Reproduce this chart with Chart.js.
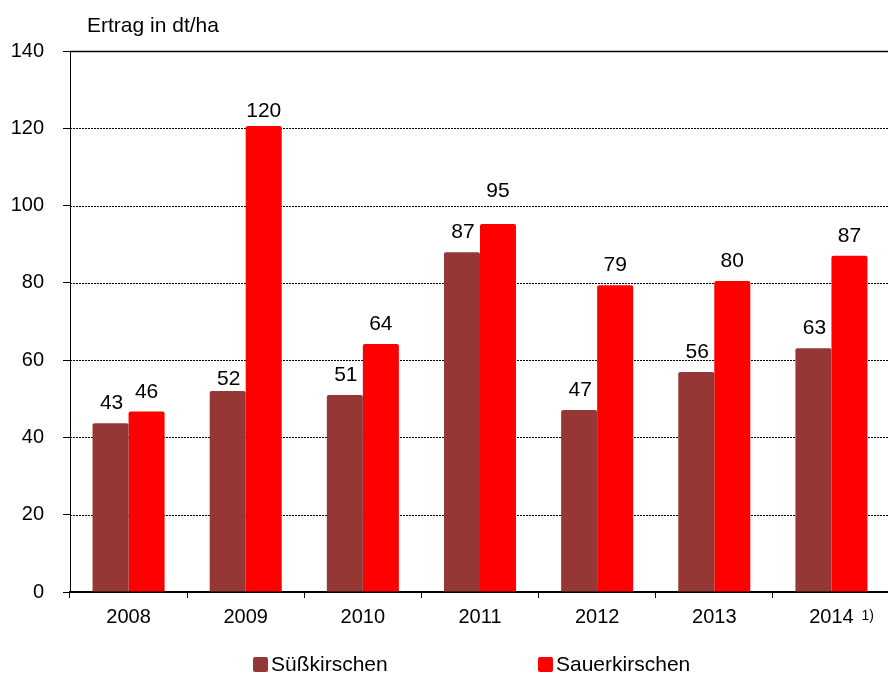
<!DOCTYPE html>
<html>
<head>
<meta charset="utf-8">
<script src="https://cdn.jsdelivr.net/npm/chart.js@4/dist/chart.umd.min.js"></script>
<style>
  html, body { margin: 0; padding: 0; background: #fff; overflow: hidden; }
  #wrap { width: 900px; height: 675px; }
</style>
</head>
<body>
<div id="wrap"><canvas id="cherryChart"></canvas></div>
<script>
// Daten
const years = ['2008', '2009', '2010', '2011', '2012', '2013', '2014'];
const footnotes = ['', '', '', '', '', '', '1)'];
const suessValues = [43.7, 52.0, 51.0, 87.9, 47.1, 56.9, 63.1];
const sauerValues = [46.7, 120.6, 64.2, 95.2, 79.4, 80.5, 87.0];
const seriesNames = ['Süßkirschen', 'Sauerkirschen'];
const seriesColors = ['#953735', '#ff0000'];
const yTicks = [0, 20, 40, 60, 80, 100, 120, 140];
const yTitle = 'Ertrag in dt/ha';

// Abstand Beschriftung -> Balkenoberkante (px), je Reihe
const labelLift = [
  [14, 6, 14, 14, 14, 14, 14],
  [14, 9, 14, 27, 14, 14, 14]
];

Chart.defaults.font.family = '"Liberation Sans", Arial, sans-serif';
Chart.defaults.color = '#000';

// Gitterlinien, Beschriftungen, Legende
const extras = {
  id: 'extras',
  beforeDatasetsDraw(chart) {
    const { ctx, chartArea, scales: { y } } = chart;
    ctx.save();
    yTicks.forEach(v => {
      if (v === 0) return;
      const py = Math.round(y.getPixelForValue(v)) + 0.5;
      ctx.beginPath();
      if (v === yTicks[yTicks.length - 1]) {
        ctx.setLineDash([]);
        ctx.lineWidth = 1.5;
      } else {
        ctx.setLineDash([2, 1]);
        ctx.lineWidth = 1;
      }
      ctx.strokeStyle = '#000';
      ctx.moveTo(chartArea.left, py);
      ctx.lineTo(chartArea.right, py);
      ctx.stroke();
    });
    ctx.restore();
  },
  afterDatasetsDraw(chart) {
    const { ctx, scales: { x } } = chart;
    ctx.save();
    ctx.fillStyle = '#000';
    ctx.font = '21px "Liberation Sans", Arial, sans-serif';
    ctx.textAlign = 'center';
    ctx.textBaseline = 'alphabetic';
    chart.data.datasets.forEach((ds, di) => {
      const meta = chart.getDatasetMeta(di);
      meta.data.forEach((bar, i) => {
        const dx = di === 0 ? 1 : 0;
        ctx.fillText(String(Math.floor(ds.data[i])), bar.x + dx, bar.y - labelLift[di][i]);
      });
    });

    // Titel
    ctx.textAlign = 'left';
    ctx.fillText(yTitle, 87, 32);

    // Fußnote
    ctx.font = '14px "Liberation Sans", Arial, sans-serif';
    ctx.textBaseline = 'top';
    footnotes.forEach((f, i) => {
      if (f) ctx.fillText(f, x.getPixelForValue(i) + 30, 609);
    });

    // Legende
    const legendX = [253, 538];
    ctx.font = '21px "Liberation Sans", Arial, sans-serif';
    ctx.textBaseline = 'alphabetic';
    seriesNames.forEach((name, i) => {
      ctx.fillStyle = seriesColors[i];
      ctx.beginPath();
      ctx.roundRect(legendX[i], 657, 15, 15, 2);
      ctx.fill();
      ctx.fillStyle = '#000';
      ctx.fillText(name, legendX[i] + 18, 671);
    });
    ctx.restore();
  }
};

const ctx = document.getElementById('cherryChart').getContext('2d');
const cherryChart = new Chart(ctx, {
  type: 'bar',
  data: {
    labels: years,
    datasets: [
      { label: seriesNames[0], data: suessValues, backgroundColor: seriesColors[0] },
      { label: seriesNames[1], data: sauerValues, backgroundColor: seriesColors[1] }
    ]
  },
  options: {
    responsive: true,
    maintainAspectRatio: false,
    animation: false,
    layout: { padding: { top: 51, right: 10, left: 0, bottom: 0 } },
    datasets: {
      bar: {
        barPercentage: 1,
        categoryPercentage: 0.615,
        borderRadius: { topLeft: 2, topRight: 2, bottomLeft: 0, bottomRight: 0 },
        borderSkipped: false
      }
    },
    plugins: {
      legend: { display: false },
      tooltip: { enabled: false }
    },
    scales: {
      x: {
        afterFit: s => { s.height = 83; },
        grid: { offset: true, drawOnChartArea: false, tickLength: 6, color: '#000' },
        border: { color: '#000', width: 2 },
        ticks: { font: { size: 20 }, padding: 7, maxRotation: 0 }
      },
      y: {
        min: 0,
        max: 140,
        afterFit: s => { s.width = 70; },
        afterBuildTicks: s => { s.ticks = yTicks.map(v => ({ value: v })); },
        grid: { drawOnChartArea: false, tickLength: 7, color: '#000' },
        border: { color: '#000', width: 1 },
        ticks: { font: { size: 20 }, padding: 19 }
      }
    }
  },
  plugins: [extras]
});
</script>
</body>
</html>
